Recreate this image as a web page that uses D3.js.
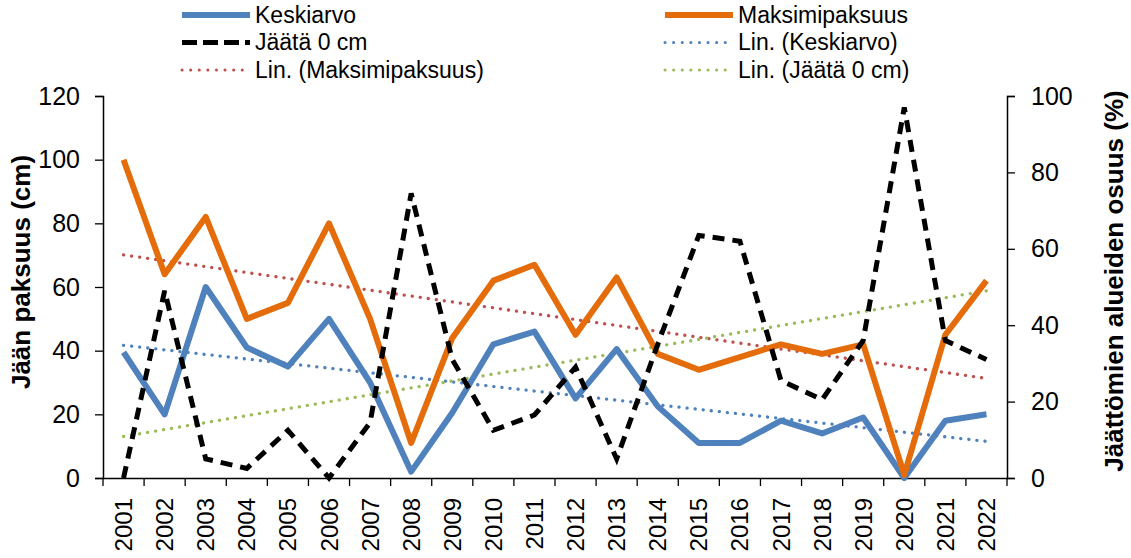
<!DOCTYPE html>
<html>
<head>
<meta charset="utf-8">
<script src="https://cdn.jsdelivr.net/npm/d3@7"></script>
<style>
  body { margin: 0; background: #fff; }
  svg { font-family: "Liberation Sans", Arial, sans-serif; }
</style>
</head>
<body>
<div id="chart"></div>
<script>
var years = ["2001","2002","2003","2004","2005","2006","2007","2008","2009","2010","2011",
             "2012","2013","2014","2015","2016","2017","2018","2019","2020","2021","2022"];
var keskiarvo = [39.5, 20, 60, 41, 35, 50, 30, 2, 20.5, 42, 46, 25, 40.5, 22.5, 11, 11, 18, 14, 19, 0, 18, 20];
var maksimi = [100, 64, 82, 50, 55, 80, 50, 11, 44, 62, 67, 45, 63, 39, 34, 38, 42, 39, 42, 1, 45, 62];
var jaata0 = [0, 49, 5, 2.5, 12.5, 0, 14.5, 74.5, 31, 12.5, 16.5, 29, 5, 35, 63.5, 62, 25.5, 20.5, 36, 97, 36, 31];
var leftTicks = [0, 20, 40, 60, 80, 100, 120];
var rightTicks = [0, 20, 40, 60, 80, 100];

var width = 1131, height = 558;
var m = {left: 103, right: 124, top: 96, bottom: 80};

var svg = d3.select('#chart').append('svg')
    .attr('width', width)
    .attr('height', height);

var x = d3.scaleBand().domain(years).range([m.left, width - m.right]);
var yL = d3.scaleLinear().domain([0, 120]).range([height - m.bottom, m.top]);
var yR = d3.scaleLinear().domain([0, 100]).range([height - m.bottom, m.top]);
var cx = function(d, i) { return x(years[i]) + x.bandwidth() / 2; };

// linear trend like Excel
function trend(vals) {
  var n = vals.length, sx = 0, sy = 0, sxy = 0, sxx = 0;
  vals.forEach(function(v, i) { var t = i + 1; sx += t; sy += v; sxy += t * v; sxx += t * t; });
  var b = (n * sxy - sx * sy) / (n * sxx - sx * sx);
  var a = (sy - b * sx) / n;
  return vals.map(function(v, i) { return a + b * (i + 1); });
}

// axes
var xAxis = d3.axisBottom(x).tickSize(0).tickFormat('');
svg.append('g').attr('transform', 'translate(0,' + (height - m.bottom) + ')')
  .call(xAxis)
  .call(function(g) { g.select('.domain').attr('stroke', '#000').attr('stroke-width', 1.5); });

// category separator ticks
var edges = years.map(function(y) { return x(y); }).concat([width - m.right]);
svg.append('g').selectAll('line').data(edges).enter().append('line')
  .attr('x1', function(d) { return d; }).attr('x2', function(d) { return d; })
  .attr('y1', height - m.bottom).attr('y2', height - m.bottom + 8)
  .attr('stroke', '#000').attr('stroke-width', 1.3);

svg.append('g').selectAll('text').data(years).enter().append('text')
  .attr('transform', function(d) { return 'translate(' + (x(d) + x.bandwidth() / 2 + 8.5) + ',' + (height - m.bottom + 20) + ') rotate(-90)'; })
  .attr('text-anchor', 'end')
  .style('font-size', '24px')
  .text(function(d) { return d; });

svg.append('g').attr('transform', 'translate(' + m.left + ',0)')
  .call(d3.axisLeft(yL).tickValues(leftTicks).tickSize(8).tickPadding(15))
  .call(function(g) {
    g.select('.domain').attr('stroke', '#000').attr('stroke-width', 1.5);
    g.selectAll('.tick line').attr('stroke', '#000').attr('stroke-width', 1.3);
    g.selectAll('text').style('font-size', '25px').style('font-family', '"Liberation Sans", Arial, sans-serif').attr('fill', '#000');
  });

svg.append('g').attr('transform', 'translate(' + (width - m.right) + ',0)')
  .call(d3.axisRight(yR).tickValues(rightTicks).tickSize(8).tickPadding(16))
  .call(function(g) {
    g.select('.domain').attr('stroke', '#000').attr('stroke-width', 1.5);
    g.selectAll('.tick line').attr('stroke', '#000').attr('stroke-width', 1.3);
    g.selectAll('text').style('font-size', '25px').style('font-family', '"Liberation Sans", Arial, sans-serif').attr('fill', '#000');
  });

// axis titles
svg.append('text')
  .attr('transform', 'translate(30,272) rotate(-90)')
  .attr('text-anchor', 'middle')
  .style('font-size', '26px').style('font-weight', 'bold')
  .text('Jään paksuus (cm)');
svg.append('text')
  .attr('transform', 'translate(1123,281) rotate(-90)')
  .attr('text-anchor', 'middle')
  .style('font-size', '26px').style('font-weight', 'bold')
  .text('Jäättömien alueiden osuus (%)');

var lineL = d3.line().x(cx).y(function(d) { return yL(d); });
var lineR = d3.line().x(cx).y(function(d) { return yR(d); });

// trend lines
var dots = '0.1 8';
svg.append('path').attr('d', lineL(trend(maksimi))).attr('fill', 'none')
  .attr('stroke', '#C0504D').attr('stroke-width', 3.3).attr('stroke-dasharray', dots).attr('stroke-linecap', 'round');
svg.append('path').attr('d', lineL(trend(keskiarvo))).attr('fill', 'none')
  .attr('stroke', '#4F81BD').attr('stroke-width', 3.3).attr('stroke-dasharray', dots).attr('stroke-linecap', 'round');
svg.append('path').attr('d', lineR(trend(jaata0))).attr('fill', 'none')
  .attr('stroke', '#9BBB59').attr('stroke-width', 3.3).attr('stroke-dasharray', dots).attr('stroke-linecap', 'round');

// series
svg.append('path').attr('d', lineL(keskiarvo)).attr('fill', 'none')
  .attr('stroke', '#4F81BD').attr('stroke-width', 6).attr('stroke-linejoin', 'round');
svg.append('path').attr('d', lineL(maksimi)).attr('fill', 'none')
  .attr('stroke', '#E46C0A').attr('stroke-width', 6).attr('stroke-linejoin', 'round');
svg.append('path').attr('d', lineR(jaata0)).attr('fill', 'none')
  .attr('stroke', '#000').attr('stroke-width', 5).attr('stroke-dasharray', '12 8');

// legend
var legend = [
  {name: 'Keskiarvo', color: '#4F81BD', w: 6, dash: null, col: 0, row: 0},
  {name: 'Maksimipaksuus', color: '#E46C0A', w: 6, dash: null, col: 1, row: 0},
  {name: 'Jäätä 0 cm', color: '#000', w: 5, dash: '15 6', col: 0, row: 1},
  {name: 'Lin. (Keskiarvo)', color: '#4F81BD', w: 3, dash: '0.1 8.5', col: 1, row: 1},
  {name: 'Lin. (Maksimipaksuus)', color: '#C0504D', w: 3, dash: '0.1 8.5', col: 0, row: 2},
  {name: 'Lin. (Jäätä 0 cm)', color: '#9BBB59', w: 3, dash: '0.1 8.5', col: 1, row: 2}
];
var lg = svg.append('g').selectAll('g').data(legend).enter().append('g')
  .attr('transform', function(d) { return 'translate(' + (d.col ? 663 : 180) + ',' + (15 + d.row * 27.5) + ')'; });
lg.append('line').attr('x1', 2).attr('x2', 70).attr('y1', 0).attr('y2', 0)
  .attr('stroke', function(d) { return d.color; })
  .attr('stroke-width', function(d) { return d.w; })
  .attr('stroke-dasharray', function(d) { return d.dash; })
  .attr('stroke-linecap', function(d) { return d.dash && d.dash.indexOf('0.1') === 0 ? 'round' : 'butt'; });
lg.append('text').attr('x', 75).attr('y', 7.5)
  .style('font-size', '23px')
  .text(function(d) { return d.name; });
</script>
</body>
</html>
